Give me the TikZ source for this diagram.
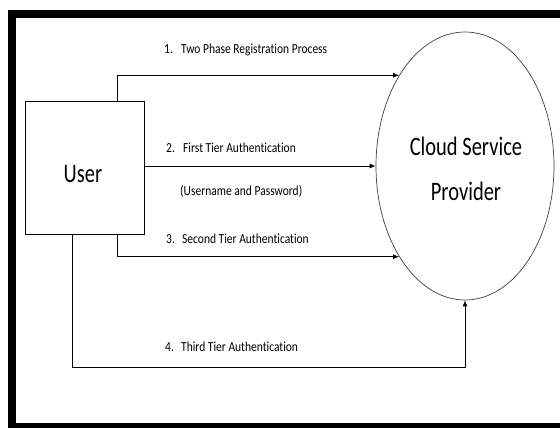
\documentclass[tikz,border=0pt]{standalone}
\usepackage{fontspec}
\usepackage{graphicx}
\setmainfont{Carlito}[Ligatures=NoCommon]
\usetikzlibrary{shapes.geometric,arrows.meta,calc}
\newcommand\tallsmall[1]{\scalebox{1}[1.2]{#1}}
\newcommand\tallbig[1]{\scalebox{1}[1.3]{#1}}
\tikzset{
  lbl/.style={anchor=base west,inner sep=0pt,font=\fontsize{11.5}{13}\selectfont},
  flow/.style={line width=0.8pt,-{Latex[length=6pt,width=5pt]}},
  big/.style={font=\fontsize{20.5}{24}\selectfont,inner sep=0pt,anchor=base}
}
\begin{document}
\begin{tikzpicture}[x=1pt,y=-1pt]
  % page and black frame (open on the right)
  \fill[white] (0,0) rectangle (560,428);
  \fill[black] (8,10) rectangle (560,428);
  \fill[white] (16,18) rectangle (560,423);
  \useasboundingbox (0,0) rectangle (560,428);

  % participants
  \node[draw,line width=0.8pt,minimum width=119pt,minimum height=133pt,inner sep=0pt] (user) at (84.5,167.5) {};
  \node[big] (usertext) at (83,182) {\tallbig{User}};

  \node[draw=black!75,line width=0.7pt,ellipse,minimum width=178pt,minimum height=268pt,inner sep=0pt] (csp) at (465,166) {};
  \node[big] (csp1) at (466,155) {\tallbig{Cloud Service}};
  \node[big] (csp2) at (466,200) {\tallbig{Provider}};

  % connectors
  \draw[flow] ($(user.north west)+(93,0)$) |- (csp.126.8);
  \draw[flow] (user.east |- csp.west) -- (csp.west);
  \draw[flow] ($(user.south west)+(93,0)$) |- (csp.234.8);
  \draw[flow] ($(user.south west)+(48,0)$) -- ++(0,133) -| (csp.south);

  % labels
  \node[lbl] (l1) at (164,54) {\tallsmall{\makebox[17pt][l]{1.}Two Phase Registration Process}};
  \node[lbl] (l2) at (166,152) {\tallsmall{\makebox[17pt][l]{2.}First Tier Authentication}};
  \node[lbl] (l2b) at (180,195) {\tallsmall{(Username and Password)}};
  \node[lbl] (l3) at (166,243) {\tallsmall{\makebox[16pt][l]{3.}Second Tier Authentication}};
  \node[lbl] (l4) at (165,351) {\tallsmall{\makebox[16pt][l]{4.}Third Tier Authentication}};
\end{tikzpicture}
\end{document}
